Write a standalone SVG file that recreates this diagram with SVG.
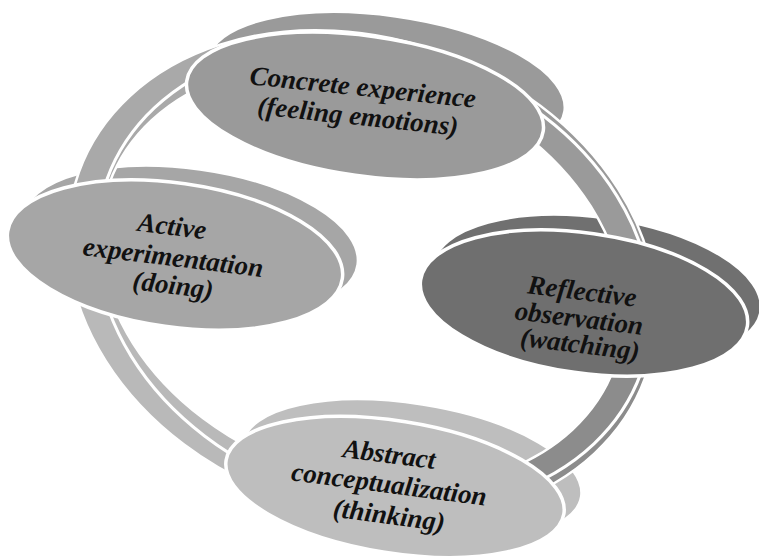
<svg xmlns="http://www.w3.org/2000/svg" width="759" height="558" viewBox="0 0 759 558">
<defs>
<style>
.lbl{font-family:"Liberation Serif","Times New Roman",serif;font-weight:bold;font-style:italic;font-size:27px;fill:#111;text-anchor:middle}
.back{stroke:#fff;stroke-width:2}
.front{stroke:#fff;stroke-width:3.5}
.halo{fill:none;stroke:#fff;stroke-width:35}
.band{fill:none;stroke-width:30}
.sep{fill:none;stroke:#fff;stroke-width:3}
</style>
<clipPath id="cUL"><polygon points="362,275 -199,215 -199,-232 371,-232"/></clipPath>
<clipPath id="cUR"><polygon points="362,275 371,-232 1028,-232 1028,359"/></clipPath>
<clipPath id="cLR"><polygon points="362,275 1028,359 1028,911 461,911"/></clipPath>
<clipPath id="cLL"><polygon points="362,275 461,911 -199,911 -199,215"/></clipPath>
</defs>
<rect width="759" height="558" fill="#fff"/>

<g id="node-bases">
<ellipse id="node-1-base" class="back" cx="386" cy="86" rx="180" ry="70" transform="rotate(8 386 86)" fill="#9a9a9a"/>
<ellipse id="node-2-base" class="back" cx="190" cy="241" rx="169" ry="72" transform="rotate(8 190 241)" fill="#a6a6a6"/>
<ellipse id="node-3-base" class="back" cx="597" cy="288" rx="165" ry="70" transform="rotate(8 597 288)" fill="#707070"/>
<ellipse id="node-4-base" class="back" cx="412" cy="470" rx="171" ry="66" transform="rotate(9 412 470)" fill="#bebebe"/>
</g>

<g id="connectors">
<ellipse class="halo" cx="362" cy="275" rx="285" ry="220" transform="rotate(20 362 275)"/>
<g clip-path="url(#cUL)"><ellipse class="band" stroke="#a9a9a9" cx="362" cy="275" rx="285" ry="220" transform="rotate(20 362 275)"/></g>
<g clip-path="url(#cUR)"><ellipse class="band" stroke="#9a9a9a" cx="362" cy="275" rx="285" ry="220" transform="rotate(20 362 275)"/></g>
<g clip-path="url(#cLR)"><ellipse class="band" stroke="#8c8c8c" cx="362" cy="275" rx="285" ry="220" transform="rotate(20 362 275)"/></g>
<g clip-path="url(#cLL)"><ellipse class="band" stroke="#b9b9b9" cx="362" cy="275" rx="285" ry="220" transform="rotate(20 362 275)"/></g>
<ellipse class="sep" cx="374" cy="276" rx="284" ry="224" transform="rotate(20 374 276)"/>
</g>

<g id="node-1">
<ellipse class="front" cx="365" cy="106" rx="180" ry="70" transform="rotate(8 365 106)" fill="#9a9a9a"/>
<text class="lbl" x="362" y="96" transform="rotate(6 362 96)">Concrete experience</text>
<text class="lbl" x="357" y="125" transform="rotate(6 357 125)">(feeling emotions)</text>
</g>

<g id="node-2">
<ellipse class="front" cx="175" cy="255" rx="169" ry="72" transform="rotate(8 175 255)" fill="#a6a6a6"/>
<text class="lbl" x="171" y="235" transform="rotate(7 171 235)">Active</text>
<text class="lbl" x="172" y="266" transform="rotate(7 172 266)">experimentation</text>
<text class="lbl" x="172" y="294" transform="rotate(7 172 294)">(doing)</text>
</g>

<g id="node-3">
<ellipse class="front" cx="584" cy="303" rx="165" ry="70" transform="rotate(8 584 303)" fill="#6f6f6f"/>
<text class="lbl" x="581" y="300" transform="rotate(7 581 300)">Reflective</text>
<text class="lbl" x="578" y="327" transform="rotate(7 578 327)">observation</text>
<text class="lbl" x="579" y="353" transform="rotate(7 579 353)">(watching)</text>
</g>

<g id="node-4">
<ellipse class="front" cx="395" cy="487" rx="171" ry="66" transform="rotate(9 395 487)" fill="#bebebe"/>
<text class="lbl" x="388" y="463" transform="rotate(7.5 388 463)">Abstract</text>
<text class="lbl" x="388" y="493" transform="rotate(7.5 388 493)">conceptualization</text>
<text class="lbl" x="388" y="524" transform="rotate(7.5 388 524)">(thinking)</text>
</g>
</svg>
